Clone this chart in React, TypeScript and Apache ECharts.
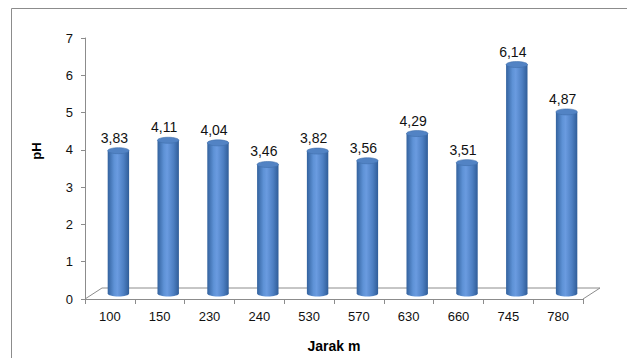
import React, { useEffect, useRef } from "react";
import * as echarts from "echarts";

const categories = ["100", "150", "230", "240", "530", "570", "630", "660", "745", "780"];
const phValues = [3.83, 4.11, 4.04, 3.46, 3.82, 3.56, 4.29, 3.51, 6.14, 4.87];
const yMin = 0;
const yMax = 7;
const yInterval = 1;
const xTitle = "Jarak m";
const yTitle = "pH";

const DEPTH_X = 17;
const DEPTH_Y = 11;
const FONT = "'Liberation Sans', Arial, sans-serif";

export default function App() {
  const ref = useRef<HTMLDivElement>(null);

  useEffect(() => {
    if (!ref.current) return;
    const chart = echarts.init(ref.current, undefined, { renderer: "svg" });

    const barGradient = new echarts.graphic.LinearGradient(0, 0, 1, 0, [
      { offset: 0, color: "#33629e" },
      { offset: 0.3, color: "#5e92d6" },
      { offset: 0.45, color: "#6a9be0" },
      { offset: 0.75, color: "#4d7fc2" },
      { offset: 1, color: "#305d98" },
    ]);

    const option: any = {
      animation: false,
      backgroundColor: "#ffffff",
      textStyle: { fontFamily: FONT },
      grid: { left: 85, top: 38, width: 498, height: 262, containLabel: false },
      xAxis: {
        type: "category",
        data: categories,
        boundaryGap: true,
        name: xTitle,
        nameLocation: "middle",
        nameGap: 40,
        nameTextStyle: { fontFamily: FONT, fontWeight: "bold", fontSize: 14, color: "#000" },
        axisLine: { show: true, lineStyle: { color: "#8c8c8c", width: 1 } },
        axisTick: { show: true, length: 5, alignWithLabel: false, lineStyle: { color: "#8c8c8c" } },
        axisLabel: { margin: 11, fontSize: 13, color: "#111", fontFamily: FONT },
        splitLine: { show: false },
      },
      yAxis: {
        type: "value",
        min: yMin,
        max: yMax,
        interval: yInterval,
        axisLine: { show: true, lineStyle: { color: "#8c8c8c", width: 1 } },
        axisTick: { show: true, length: 4, lineStyle: { color: "#8c8c8c" } },
        axisLabel: { margin: 12, fontSize: 13, color: "#111", fontFamily: FONT },
        splitLine: { show: false },
      },
      graphic: [
        {
          type: "rect",
          z: -10,
          shape: { x: 11.5, y: 8.5, width: 700, height: 420 },
          style: { fill: "none", stroke: "#8c8c8c", lineWidth: 1 },
        },
        {
          type: "text",
          x: 36,
          y: 151,
          rotation: Math.PI / 2,
          style: {
            text: yTitle,
            fontFamily: FONT,
            fontWeight: "bold",
            fontSize: 13,
            fill: "#000",
            align: "center",
            verticalAlign: "middle",
          },
        },
      ],
      series: [
        {
          type: "custom",
          z: 1,
          data: [0],
          silent: true,
          renderItem: (params: any, api: any) => {
            const cs = params.coordSys;
            const x0 = cs.x;
            const yb = cs.y + cs.height;
            const x1 = cs.x + cs.width;
            return {
              type: "polyline",
              shape: {
                points: [
                  [x0, yb],
                  [x0 + DEPTH_X, yb - DEPTH_Y],
                  [x1 + DEPTH_X, yb - DEPTH_Y],
                  [x1, yb],
                ],
              },
              style: { fill: "none", stroke: "#8c8c8c", lineWidth: 1 },
            };
          },
        },
        {
          type: "custom",
          z: 5,
          data: phValues.map((v, i) => [i, v]),
          renderItem: (params: any, api: any) => {
            const idx = api.value(0);
            const val = api.value(1);
            const top = api.coord([idx, val]);
            const base = api.coord([idx, 0]);
            const band = api.size([1, 0])[0];
            const w = band * 0.43;
            const dx = DEPTH_X / 2;
            const dy = -DEPTH_Y / 2;
            const cx = top[0] + dx;
            const topY = top[1] + dy;
            const botY = base[1] + dy;
            const ry = 3;
            return {
              type: "group",
              children: [
                {
                  type: "ellipse",
                  shape: { cx, cy: botY, rx: w / 2, ry },
                  style: { fill: barGradient },
                },
                {
                  type: "rect",
                  shape: { x: cx - w / 2, y: topY, width: w, height: botY - topY },
                  style: { fill: barGradient },
                },
                {
                  type: "ellipse",
                  shape: { cx, cy: topY, rx: w / 2, ry },
                  style: { fill: "#5283c4", stroke: "#3f6eab", lineWidth: 0.6 },
                },
                {
                  type: "text",
                  style: {
                    text: val.toFixed(2).replace(".", ","),
                    x: cx - 4,
                    y: topY - 6,
                    align: "center",
                    verticalAlign: "bottom",
                    fontFamily: FONT,
                    fontSize: 14,
                    fill: "#111",
                  },
                },
              ],
            };
          },
        },
      ],
    };

    chart.setOption(option);
    return () => chart.dispose();
  }, []);

  return (
    <div
      ref={ref}
      style={{ position: "absolute", left: 0, top: 0, width: 627, height: 358 }}
    />
  );
}
